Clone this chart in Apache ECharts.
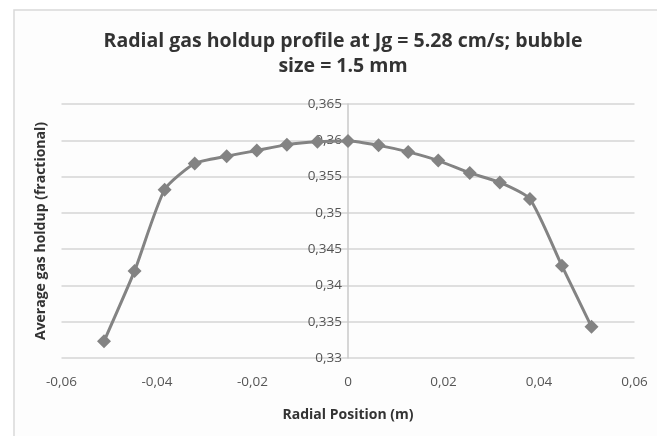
<!DOCTYPE html>
<html>
<head>
<meta charset="utf-8">
<script src="https://cdn.jsdelivr.net/npm/echarts@6/dist/echarts.min.js"></script>
<style>
  html, body { margin: 0; padding: 0; background: #fff; }
  #chart { width: 657px; height: 436px; }
</style>
</head>
<body>
<div id="chart"></div>
<script>
// radial position (m) and average gas holdup
const positions = [-0.0511, -0.0447, -0.0384, -0.0321, -0.0254, -0.0191, -0.0128, -0.0064, 0,
  0.0064, 0.0126, 0.0189, 0.0255, 0.0318, 0.0381, 0.0448, 0.0510];
const holdup = [0.3323, 0.3420, 0.3532, 0.3568, 0.3578, 0.3586, 0.3594, 0.3598, 0.3599,
  0.3593, 0.3584, 0.3572, 0.3555, 0.3542, 0.3519, 0.3427, 0.3343];

const titleText = 'Radial gas holdup profile at Jg = 5.28 cm/s; bubble\nsize = 1.5 mm';
const xName = 'Radial Position (m)';
const yName = 'Average gas holdup (fractional)';

const comma = v => String(+v.toFixed(4)).replace('.', ',');
const font = '"Open Sans", "Noto Sans", sans-serif';

const chart = echarts.init(document.getElementById('chart'));
chart.setOption({
  backgroundColor: '#fff',
  animation: false,
  graphic: [{
    type: 'rect',
    shape: { x: 14, y: 10, width: 700, height: 500 },
    style: { fill: '#fdfdfd', stroke: '#d9d9d9', lineWidth: 1.5 },
    z: -10,
  }],
  title: {
    text: titleText,
    left: 338,
    textAlign: 'center',
    top: 24,
    padding: 5,
    textStyle: {
      fontFamily: font,
      fontSize: 19.5,
      fontWeight: 'bold',
      color: '#333',
      lineHeight: 25,
    },
  },
  grid: {
    left: 61.5, right: 22.5, top: 104, bottom: 78,
    containLabel: false,
    outerBoundsMode: 'none',
  },
  xAxis: {
    type: 'value',
    min: -0.06,
    max: 0.06,
    interval: 0.02,
    name: xName,
    nameLocation: 'middle',
    nameGap: 50,
    nameTextStyle: { fontFamily: font, fontSize: 14, fontWeight: 'bold', color: '#333' },
    axisLine: { show: false },
    axisTick: { show: false },
    splitLine: { show: false },
    axisLabel: {
      fontFamily: font, fontSize: 13.5, color: '#555', margin: 17,
      formatter: comma,
    },
  },
  yAxis: {
    type: 'value',
    position: 'left',
    offset: -286.5,
    min: 0.33,
    max: 0.365,
    interval: 0.005,
    name: yName,
    nameLocation: 'middle',
    nameGap: 300,
    nameRotate: 90,
    nameTextStyle: { fontFamily: font, fontSize: 14, fontWeight: 'bold', color: '#333' },
    axisLine: { show: true, onZero: false, lineStyle: { color: '#c8c8c8', width: 1.5 } },
    axisTick: { show: false },
    splitLine: { lineStyle: { color: '#d4d4d4', width: 1.5 } },
    axisLabel: {
      fontFamily: font, fontSize: 13.5, color: '#555', margin: 6,
      formatter: comma,
    },
  },
  series: [{
    type: 'line',
    data: positions.map((x, i) => [x, holdup[i]]),
    smooth: 0.2,
    symbol: 'diamond',
    symbolSize: 14,
    lineStyle: { color: '#838383', width: 3 },
    itemStyle: { color: '#838383' },
  }],
});
</script>
</body>
</html>
